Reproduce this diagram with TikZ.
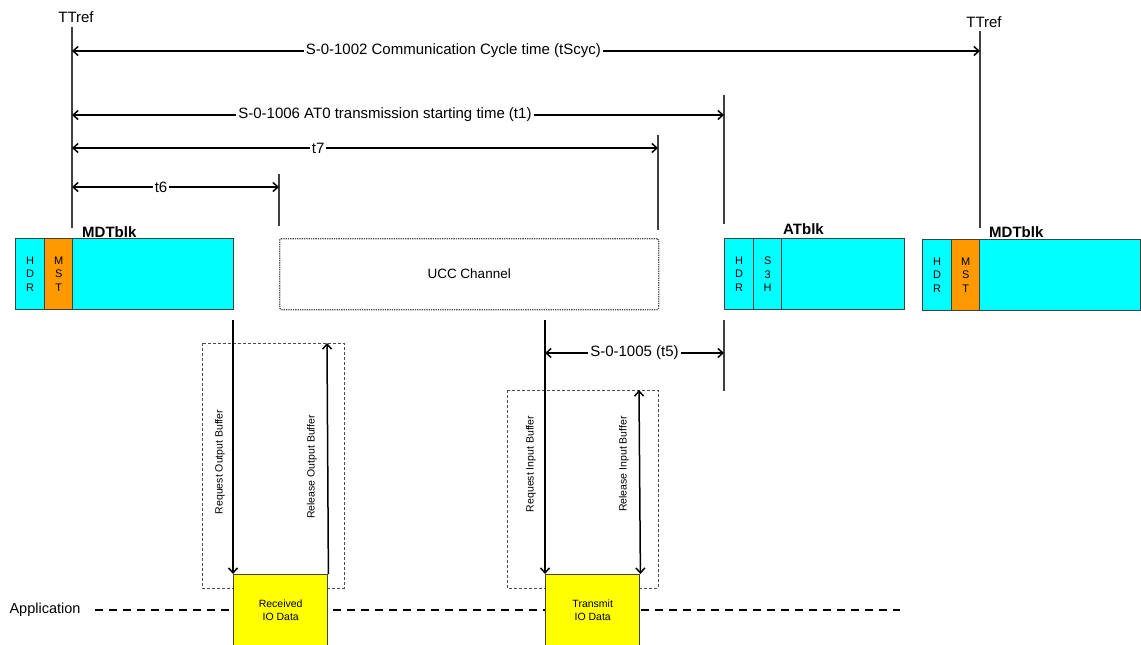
\documentclass[tikz,border=0pt]{standalone}
\usepackage{fontspec}
\setmainfont{Liberation Sans}
\usetikzlibrary{arrows.meta}
\definecolor{cyanbox}{HTML}{00FFFF}
\definecolor{orangebox}{HTML}{FF9900}
\definecolor{yellowbox}{HTML}{FFFF00}
\definecolor{tickc}{HTML}{404040}
\begin{document}
\begin{tikzpicture}[x=1pt,y=-1pt,
  cell/.style={draw=tickc, line width=1.4pt, fill=cyanbox, anchor=north west, inner sep=0pt,
    minimum height=71pt, font=\fontsize{11}{13.5}\selectfont, align=center},
  tickline/.style={draw=tickc, line width=1.8pt},
  dim/.style={draw=black, line width=1.5pt, {Straight Barb[length=5pt,width=9pt]}-{Straight Barb[length=5pt,width=9pt]}},
  oneway/.style={draw=black, line width=1.5pt, -{Straight Barb[length=5pt,width=9pt]}},
  dimlabel/.style={fill=white, inner sep=2pt, font=\fontsize{15}{17}\selectfont},
  blklabel/.style={font=\fontsize{15}{17}\selectfont\bfseries, anchor=south west, inner sep=0pt},
  vlabel/.style={rotate=90, font=\fontsize{10.5}{12}\selectfont, inner sep=0pt},
  iobox/.style={draw=tickc, line width=1.4pt, fill=yellowbox, anchor=north west, inner sep=0pt,
    minimum width=94pt, minimum height=72pt, align=center, font=\fontsize{10.5}{13}\selectfont},
  dashbox/.style={draw=black!70, densely dashed, line width=0.8pt},
  ttref/.style={font=\fontsize{15}{17}\selectfont, inner sep=0pt}
]
\useasboundingbox (0,0) rectangle (1141,645);

% TTref markers and tick lines
\node[ttref] (tt1) at (76,17) {TTref};
\node[ttref] (tt2) at (984,22) {TTref};
\coordinate (a0t) at (72,27);  \coordinate (a0b) at (72,228);
\coordinate (a1t) at (980,31); \coordinate (a1b) at (980,228);
\coordinate (a2t) at (724,95); \coordinate (a2b) at (724,224);
\coordinate (a3t) at (658,135); \coordinate (a3b) at (658,230);
\coordinate (a4t) at (279,174); \coordinate (a4b) at (279,226);
\draw[tickline] (a0t) -- (a0b);
\draw[tickline] (a1t) -- (a1b);
\draw[tickline] (a2t) -- (a2b);
\draw[tickline] (a3t) -- (a3b);
\draw[tickline] (a4t) -- (a4b);

% dimension arrows
\draw[dim] (72,51) -- node[dimlabel, pos=0.42] {S-0-1002 Communication Cycle time (tScyc)} (980,51);
\draw[dim] (72,115) -- node[dimlabel, pos=0.48] {S-0-1006 AT0 transmission starting time (t1)} (724,115);
\draw[dim] (72,148) -- node[dimlabel, pos=0.42] {t7} (658,148);
\draw[dim] (72,187) -- node[dimlabel, pos=0.43] {t6} (279,187);

% MDTblk left
\node[blklabel] (l1) at (82,238) {MDTblk};
\node[cell, minimum width=29pt] (h1) at (15,238) {H\\D\\R};
\node[cell, minimum width=28pt, fill=orangebox] (m1) at (44,238) {M\\S\\T};
\node[cell, minimum width=161pt] (d1) at (72,238) {};

% UCC channel
\node[draw=black!70, densely dotted, line width=1.3pt, rounded corners=1.5pt, anchor=north west,
  minimum width=379pt, minimum height=71pt, inner sep=0pt, font=\fontsize{13.5}{15}\selectfont] (ucc) at (279,238) {UCC Channel};

% ATblk
\node[blklabel] (l2) at (783,235) {ATblk};
\node[cell, minimum width=29pt] (h2) at (724,238) {H\\D\\R};
\node[cell, minimum width=28pt] (s2) at (753,238) {S\\3\\H};
\node[cell, minimum width=123pt] (d2) at (781,238) {};

% MDTblk right
\node[blklabel] (l3) at (989,238) {MDTblk};
\node[cell, minimum width=29pt] (h3) at (922,239) {H\\D\\R};
\node[cell, minimum width=28pt, fill=orangebox] (m3) at (951,239) {M\\S\\T};
\node[cell, minimum width=161pt] (d3) at (979,239) {};

% application line
\node[font=\fontsize{14.5}{16}\selectfont, inner sep=0pt] (app) at (45,610) {Application};
\coordinate (appL) at (95,610); \coordinate (appR) at (900,610);
\draw[black, line width=1.3pt, dash pattern=on 8pt off 6pt] (appL) -- (appR);

% dashed boxes
\draw[dashbox] (202,343) rectangle (344,588);
\draw[dashbox] (507,390) rectangle (658,588);

% IO boxes
\node[iobox] (rx) at (233,574) {Received\\IO Data};
\node[iobox] (tx) at (545,574) {Transmit\\IO Data};

% output buffer arrows
\coordinate (ro1) at (233,320);
\draw[oneway] (ro1) -- (rx.north west);
\coordinate (ro2) at (327,343);
\draw[oneway] (rx.north east) -- (ro2);
\node[vlabel] (lrq1) at (220,462) {Request Output Buffer};
\node[vlabel] (lrl1) at (312,467) {Release Output Buffer};

% input buffer arrows
\coordinate (ri1) at (545,320);
\draw[oneway] (ri1) -- (tx.north west);
\coordinate (ri2) at (639,390);
\draw[dim] (ri2) -- (tx.north east);
\node[vlabel] (lrq2) at (531,464) {Request Input Buffer};
\node[vlabel] (lrl2) at (624,464) {Release Input Buffer};

% t5
\coordinate (t5t) at (724,320); \coordinate (t5b) at (724,391);
\draw[tickline] (t5t) -- (t5b);
\draw[dim] (545,353) -- node[dimlabel] {S-0-1005 (t5)} (724,353);
\end{tikzpicture}
\end{document}
